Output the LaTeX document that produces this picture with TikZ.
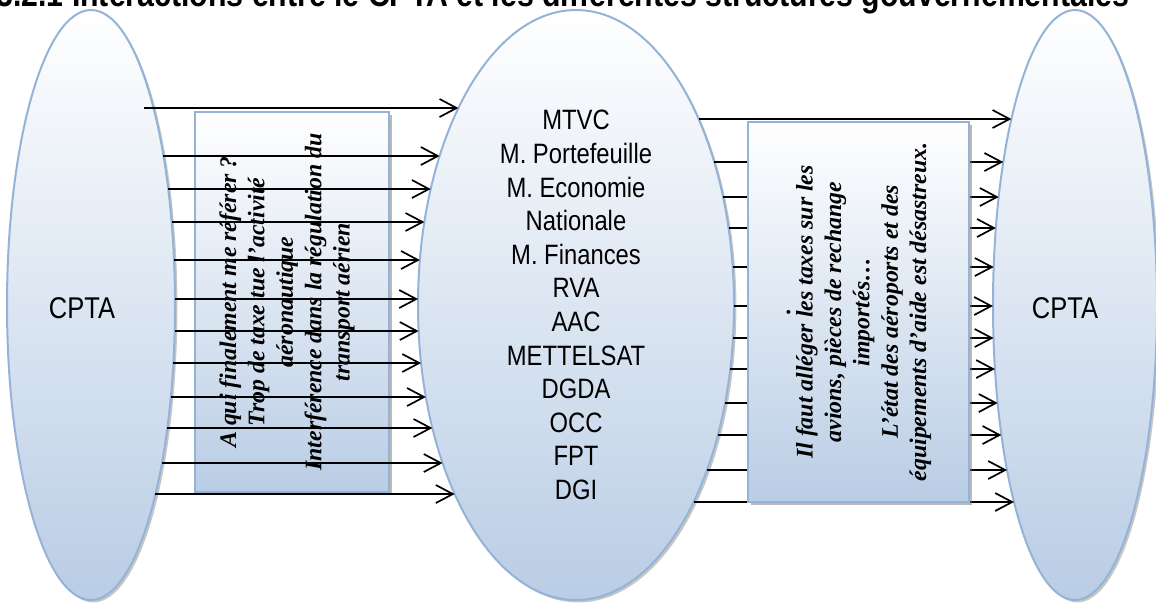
\documentclass[tikz,border=0pt]{standalone}
\usepackage{fontspec}
\setmainfont{Liberation Serif}
\newfontfamily\arialc[FakeStretch=0.85]{Liberation Sans}
\usetikzlibrary{arrows.meta,shadows,shapes.geometric}
\definecolor{edgeblue}{RGB}{149,179,215}
\definecolor{fillblue}{RGB}{185,205,229}
\tikzset{
  ell/.style={ellipse, draw=edgeblue, line width=1pt, top color=white, bottom color=fillblue,
    inner sep=0pt, drop shadow={shadow xshift=1.2pt, shadow yshift=-1.2pt, fill=black!50, opacity=0.45}},
  boxst/.style={rectangle, draw=edgeblue, line width=1pt, top color=white, bottom color=fillblue,
    inner sep=0pt, drop shadow={shadow xshift=1.5pt, shadow yshift=-1.5pt, fill=black!55, opacity=0.5}},
  arr/.style={draw=black, line width=0.85pt, -{Straight Barb[length=8.5pt, width=9pt]}},
  boxtext/.style={rotate=90, align=center, inner sep=0pt,
    font=\bfseries\itshape\fontsize{11.9}{14.2}\selectfont},
  lbl/.style={inner sep=0pt, font=\arialc\fontsize{15}{18}\selectfont},
}
\begin{document}
\begin{tikzpicture}[x=0.5pt,y=-0.5pt]
\useasboundingbox (0,0) rectangle (1156,602);
\clip (0,0) rectangle (1156,602);
% title (cut at the top)
\node[anchor=base west, inner sep=0pt, font=\arialc\bfseries\fontsize{17.8}{20}\selectfont] (T) at (-4,6)
  {3.2.1 Interactions entre le CPTA et les différentes structures gouvernementales};
% ellipses
\node[ell, minimum width=84pt, minimum height=295pt] (L) at (91,305) {};
\node[ell, minimum width=158pt, minimum height=295pt, align=center,
  font=\arialc\fontsize{14}{16.8}\selectfont] (M) at (576,305)
  {MTVC\\M. Portefeuille\\M. Economie\\Nationale\\M. Finances\\RVA\\AAC\\METTELSAT\\DGDA\\OCC\\FPT\\DGI};
\node[ell, minimum width=82pt, minimum height=295pt] (R) at (1075,305) {};
\node[lbl] (Lt) at (82,308) {CPTA};
\node[lbl] (Rt) at (1065,308) {CPTA};
% left box with text
\node[boxst, minimum width=97pt, minimum height=190pt] (LB) at (292,302) {};
\node[boxtext] (LBt) at (287,302) {A qui finalement me référer ?\\Trop de taxe tue l’activité\\aéronautique\\Interférence dans la régulation du\\transport aérien};
% left arrows (drawn over the left box)
\foreach \i/\yy/\ex in {1/108/9.5,2/156/0,3/189/0,4/222/0,5/260/0,6/299/0,7/331/0,8/363/0,9/397/0,10/428/0,11/463/0,12/494/0}{
  \pgfmathsetmacro{\s}{sqrt(1-((\yy-305)/295)^2)}
  \pgfmathsetmacro{\xa}{91+84*\s-\ex}
  \pgfmathsetmacro{\xb}{576-158*\s}
  \coordinate (la\i) at (\xa,\yy);
  \coordinate (lb\i) at (\xb,\yy);
  \draw[arr] (la\i) -- (lb\i);
}
% right arrows (hidden behind the right box)
\foreach \i/\yy in {1/119,2/162,3/197,4/228,5/267,6/306,7/338,8/369,9/403,10/435,11/470,12/502}{
  \pgfmathsetmacro{\s}{sqrt(1-((\yy-305)/295)^2)}
  \pgfmathsetmacro{\xa}{576+158*\s}
  \pgfmathsetmacro{\xb}{1075-82*\s}
  \coordinate (ra\i) at (\xa,\yy);
  \coordinate (rb\i) at (\xb,\yy);
  \draw[arr] (ra\i) -- (rb\i);
}
% right box with text
\node[boxst, minimum width=110.5pt, minimum height=190pt] (RB) at (858.5,312) {};
\node[boxtext] (RBt) at (859,312) {.\\[-3pt]Il faut alléger les taxes sur les\\avions, pièces de rechange\\importés…\\L’état des aéroports et des\\équipements d’aide est désastreux.};
\end{tikzpicture}
\end{document}
